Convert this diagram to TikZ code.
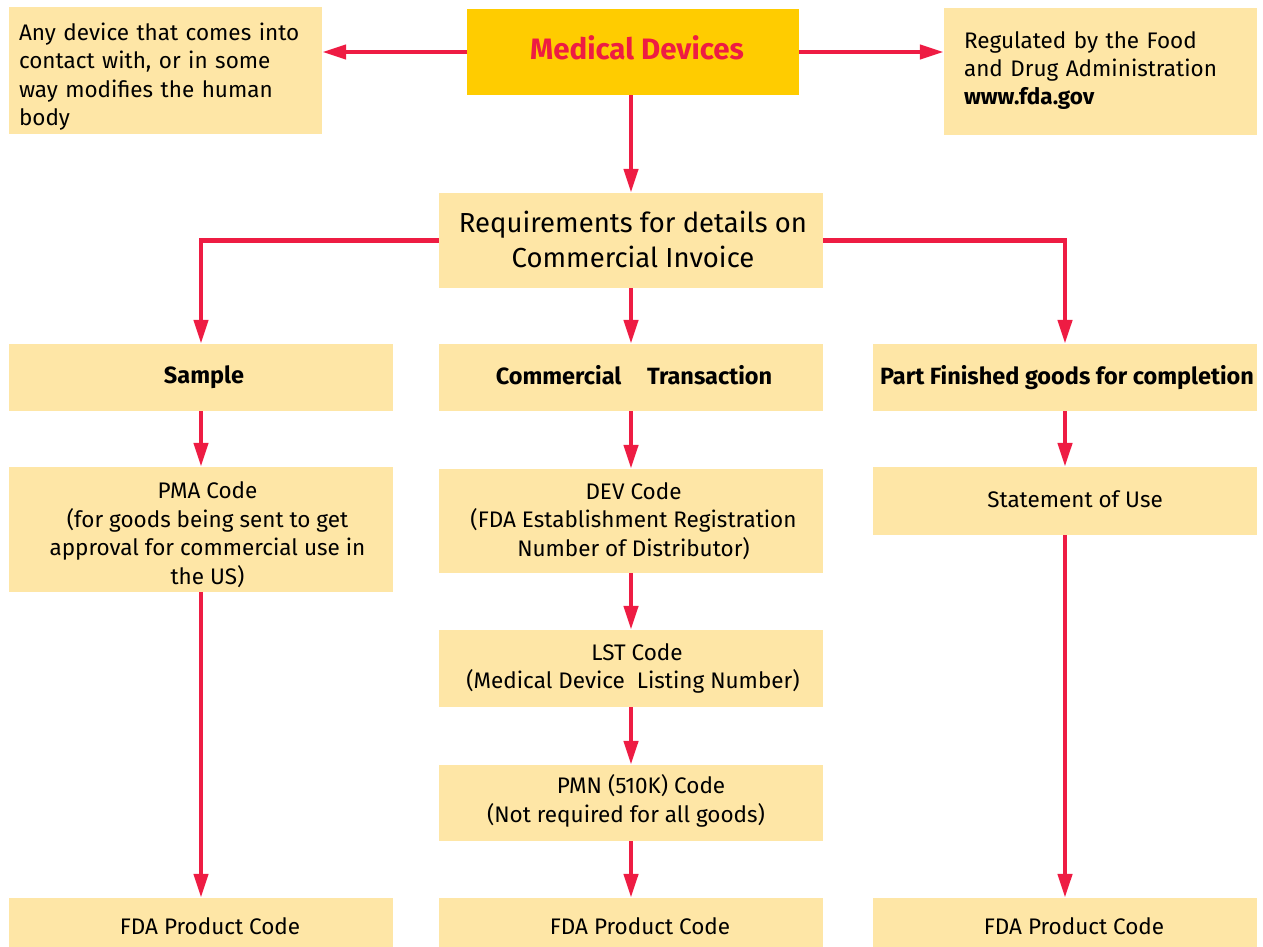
\documentclass[tikz,border=0pt]{standalone}
\usepackage{fontspec}
\setmainfont{Fira Sans}
\usetikzlibrary{arrows.meta,positioning}
\definecolor{boxfill}{HTML}{FEE6A6}
\definecolor{medfill}{HTML}{FFCC00}
\definecolor{arrred}{HTML}{EE1C43}
\tikzset{
  box/.style={fill=boxfill, inner sep=0pt, minimum width=384pt},
  lbl/.style={align=center, inner sep=0pt, font=\fontsize{22.5}{28.5}\selectfont},
  blbl/.style={align=center, inner sep=0pt, font=\fontsize{23.5}{28.5}\selectfont\bfseries},
  conn/.style={draw=arrred, line width=4.5pt, -{Triangle[length=24pt,width=14pt]}},
}
\begin{document}
\begin{tikzpicture}[x=1pt,y=-1pt]
\useasboundingbox (0,0) rectangle (1263,947);
% top row
\node[box, minimum width=313pt, minimum height=127pt,
  label={[lbl, align=left, text width=293pt, yshift=-6pt]center:{Any device that comes into\\contact with, or in some\\way modifies the human\\body}}] (def) at (165.5,70.5) {};
\node[fill=medfill, minimum width=332pt, minimum height=86pt, inner sep=0pt,
  label={[inner sep=0pt, text=arrred, font=\fontsize{29.5}{32}\selectfont\bfseries, xshift=4pt, yshift=4pt]center:Medical Devices}] (med) at (633,52) {};
\node[box, minimum width=313pt, minimum height=127pt,
  label={[lbl, font=\fontsize{22.5}{27.7}\selectfont, align=left, text width=273pt, yshift=1pt]center:{Regulated by the Food\\and Drug Administration\\\textbf{www.fda.gov}}}] (reg) at (1100.5,71.5) {};
% requirements
\node[box, minimum height=95pt,
  label={[lbl, font=\fontsize{27.5}{34.7}\selectfont, xshift=2pt, yshift=1pt]center:{Requirements for details on\\Commercial Invoice}}] (req) at (631,240.5) {};
% second row
\node[box, minimum height=67pt, label={[blbl, xshift=3pt]center:Sample}] (sample) at (201,377.5) {};
\node[box, minimum height=67pt, label={[blbl, xshift=3pt, yshift=2pt]center:{Commercial\hspace{20pt} Transaction}}] (comm) at (631,377.5) {};
\node[box, minimum height=67pt, label={[blbl, xshift=2pt]center:{Part Finished goods for completion}}] (part) at (1065,377.5) {};
% third row
\node[box, minimum height=125pt,
  label={[lbl, xshift=6.5pt, yshift=-5pt]center:{PMA Code\\(for goods being sent to get\\approval for commercial use in\\the US)}}] (pma) at (201,529.5) {};
\node[box, minimum height=104pt,
  label={[lbl, xshift=2.5pt]center:{DEV Code\\(FDA Establishment Registration\\Number of Distributor)}}] (dev) at (631,521) {};
\node[box, minimum height=68pt, label={[lbl, xshift=10pt, yshift=2pt]center:{Statement of Use}}] (stmt) at (1065,501) {};
% middle column
\node[box, minimum height=77pt,
  label={[lbl, xshift=2pt]center:{\hspace*{8pt}LST Code\\(Medical Device\ \ Listing Number)}}] (lst) at (631,668.5) {};
\node[box, minimum height=76pt,
  label={[lbl, xshift=-5pt, yshift=2pt]center:{\hspace*{30pt}PMN (510K) Code\\(Not required for all goods)}}] (pmn) at (631,803) {};
% bottom row
\node[box, minimum height=49pt, label={[lbl, xshift=9pt, yshift=-4pt]center:{FDA Product Code}}] (fda1) at (201,922.5) {};
\node[box, minimum height=49pt, label={[lbl, xshift=9pt, yshift=-4pt]center:{FDA Product Code}}] (fda2) at (631,922.5) {};
\node[box, minimum height=49pt, label={[lbl, xshift=9pt, yshift=-4pt]center:{FDA Product Code}}] (fda3) at (1065,922.5) {};
% connectors
\draw[conn] (med.west) -- (med.west -| def.east);
\draw[conn] (med.east) -- (med.east -| reg.west);
\draw[conn] (med.south -| req.north) -- (req.north);
\draw[conn] (req.west) -| (sample.north);
\draw[conn] (req.east) -| (part.north);
\draw[conn] (req.south) -- (comm.north);
\draw[conn] (sample.south) -- (pma.north);
\draw[conn] (pma.south) -- (fda1.north);
\draw[conn] (comm.south) -- (dev.north);
\draw[conn] (dev.south) -- (lst.north);
\draw[conn] (lst.south) -- (pmn.north);
\draw[conn] (pmn.south) -- (fda2.north);
\draw[conn] (part.south) -- (stmt.north);
\draw[conn] (stmt.south) -- (fda3.north);
\end{tikzpicture}
\end{document}
